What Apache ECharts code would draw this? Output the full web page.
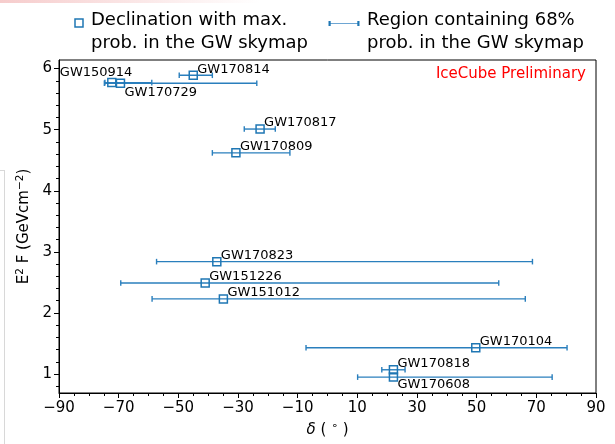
<!DOCTYPE html>
<html>
<head>
<meta charset="utf-8">
<script src="https://cdn.jsdelivr.net/npm/echarts@6/dist/echarts.min.js"></script>
<style>
html,body{margin:0;padding:0;background:#fff;}
#chart{width:615px;height:444px;}
</style>
</head>
<body>
<div id="chart"></div>
<script>
// ---- data ----
const names = ['GW150914','GW170729','GW170814','GW170817','GW170809','GW170823','GW151226','GW151012','GW170104','GW170818','GW170608'];
const decl = [-72.3, -69.4, -45.0, -22.6, -30.7, -37.1, -41.0, -34.9, 49.7, 22.1, 22.1];
const flux = [5.77, 5.76, 5.89, 5.01, 4.62, 2.84, 2.49, 2.23, 1.43, 1.07, 0.95];
const declLow = [-74.6, -74.8, -49.7, -27.9, -38.6, -57.3, -69.3, -58.8, -7.2, 18.2, 10.1];
const declHigh = [-58.9, -23.7, -38.6, -17.5, -12.6, 68.7, 57.4, 66.3, 80.3, 26.0, 75.3];
const xTicks = [-90, -70, -50, -30, -10, 10, 30, 50, 70, 90];
const yTicks = [1, 2, 3, 4, 5, 6];
const yMinorTicks = [0.8, 1.2, 1.4, 1.6, 1.8, 2.2, 2.4, 2.6, 2.8, 3.2, 3.4, 3.6, 3.8, 4.2, 4.4, 4.6, 4.8, 5.2, 5.4, 5.6, 5.8];

// label placement (style only)
const labelOffsets = {
  'GW150914': [-52, -10],
  'GW170729': [4, 9],
  'GW170608': [4, 8]
};
const defaultOffset = [4, -6];

const BLUE = '#1f77b4';
const FONT = 'DejaVu Sans';

const chart = echarts.init(document.getElementById('chart'), null, {renderer: 'canvas'});

const pointData = names.map((n, i) => ({
  name: n,
  value: [decl[i], flux[i]],
  label: {
    show: true,
    position: 'inside',
    align: 'left',
    verticalAlign: 'middle',
    offset: labelOffsets[n] || defaultOffset,
    formatter: n,
    fontFamily: FONT,
    fontSize: 13,
    color: '#000'
  }
}));

const errData = names.map((n, i) => [declLow[i], declHigh[i], flux[i]]);

const fmtMinus = v => (v < 0 ? '\u2212' + Math.abs(v) : String(v));

const option = {
  animation: false,
  backgroundColor: '#fff',
  grid: {left: 59, top: 60, width: 537, height: 333, show: true, borderColor: '#000', borderWidth: 1, backgroundColor: 'transparent'},
  xAxis: {
    type: 'value', min: -90, max: 90, interval: 20,
    axisLine: {show: true, onZero: false, lineStyle: {color: '#000', width: 1}},
    axisTick: {show: true, inside: false, length: 5, lineStyle: {color: '#000'}},
    minorTick: {show: true, splitNumber: 4, length: 3, lineStyle: {color: '#000'}},
    splitLine: {show: false},
    axisLabel: {fontFamily: FONT, fontSize: 15, color: '#000', margin: 8, formatter: fmtMinus},
    name: '{i|\u03b4}{n| ( }{s|\u2218}{n| )}',
    nameLocation: 'middle', nameGap: 25,
    nameTextStyle: {
      fontFamily: FONT, fontSize: 15, color: '#000',
      rich: {
        i: {fontFamily: FONT, fontSize: 15, fontStyle: 'italic', color: '#000'},
        n: {fontFamily: FONT, fontSize: 15, color: '#000'},
        s: {fontFamily: FONT, fontSize: 11, color: '#000', padding: [0, 0, 7, 0]}
      }
    }
  },
  yAxis: [{
    type: 'value', min: 0.69, max: 6.14,
    axisLine: {show: true, onZero: false, lineStyle: {color: '#000', width: 1}},
    axisTick: {show: true, length: 5, customValues: yTicks, lineStyle: {color: '#000'}},
    splitLine: {show: false},
    axisLabel: {fontFamily: FONT, fontSize: 15, color: '#000', margin: 7, customValues: yTicks},
    name: '{n|E}{s|2}{n| F (GeVcm}{s|\u22122}{n|)}',
    nameLocation: 'middle', nameGap: 24, nameRotate: 90,
    nameTextStyle: {
      fontFamily: FONT, fontSize: 15, color: '#000',
      rich: {
        n: {fontFamily: FONT, fontSize: 15, color: '#000'},
        s: {fontFamily: FONT, fontSize: 10.5, color: '#000', padding: [0, 0, 8, 0]}
      }
    }
  }, {
    type: 'value', min: 0.69, max: 6.14, position: 'left', offset: 0,
    axisLine: {show: false, onZero: false},
    axisTick: {show: true, length: 3, customValues: yMinorTicks, lineStyle: {color: '#000'}},
    axisLabel: {show: false},
    splitLine: {show: false}
  }],
  series: [{
    type: 'custom',
    name: 'Region containing 68% prob. in the GW skymap',
    xAxisIndex: 0, yAxisIndex: 0,
    encode: {x: [0, 1], y: 2},
    data: errData,
    z: 2,
    renderItem: function (params, api) {
      const p1 = api.coord([api.value(0), api.value(2)]);
      const p2 = api.coord([api.value(1), api.value(2)]);
      const c = 2.8;
      const st = {stroke: '#2a7fbd', lineWidth: 1.4};
      return {
        type: 'group',
        children: [
          {type: 'line', shape: {x1: p1[0], y1: p1[1], x2: p2[0], y2: p2[1]}, style: st},
          {type: 'line', shape: {x1: p1[0], y1: p1[1] - c, x2: p1[0], y2: p1[1] + c}, style: st},
          {type: 'line', shape: {x1: p2[0], y1: p2[1] - c, x2: p2[0], y2: p2[1] + c}, style: st}
        ]
      };
    }
  }, {
    type: 'scatter',
    name: 'Declination with max. prob. in the GW skymap',
    xAxisIndex: 0, yAxisIndex: 0,
    symbol: 'rect', symbolSize: 8,
    itemStyle: {color: 'none', borderColor: BLUE, borderWidth: 1.5, opacity: 1},
    emphasis: {disabled: true},
    z: 3,
    data: pointData
  }],
  graphic: [
    // legend
    {type: 'rect', shape: {x: 75, y: 19, width: 8, height: 8}, style: {fill: 'none', stroke: BLUE, lineWidth: 1.5}},
    {type: 'text', left: 91, top: 9, style: {text: 'Declination with max.\nprob. in the GW skymap', font: '18px "DejaVu Sans"', fill: '#000', lineHeight: 23}},
    {type: 'line', shape: {x1: 329.5, y1: 23.5, x2: 358.5, y2: 23.5}, style: {stroke: '#6ea6d3', lineWidth: 1}},
    {type: 'rect', shape: {x: 328.5, y: 21, width: 2.2, height: 5}, style: {fill: BLUE}},
    {type: 'rect', shape: {x: 357.3, y: 21, width: 2.2, height: 5}, style: {fill: BLUE}},
    {type: 'text', left: 367, top: 9, style: {text: 'Region containing 68%\nprob. in the GW skymap', font: '18px "DejaVu Sans"', fill: '#000', lineHeight: 23}},
    // annotation
    {type: 'text', right: 29, top: 67, style: {text: 'IceCube Preliminary', font: '15px "DejaVu Sans"', fill: '#ff0000'}},
    // screenshot edge artefacts
    {type: 'line', shape: {x1: 4.5, y1: 170, x2: 4.5, y2: 444}, style: {stroke: '#d8d8d8', lineWidth: 1}},
    {type: 'line', shape: {x1: 0, y1: 170.5, x2: 4.5, y2: 170.5}, style: {stroke: '#d8d8d8', lineWidth: 1}},
    {type: 'rect', shape: {x: 0, y: 0, width: 260, height: 3}, style: {fill: new echarts.graphic.LinearGradient(0, 0, 1, 0, [{offset: 0, color: 'rgba(240,170,170,0.6)'}, {offset: 1, color: 'rgba(240,170,170,0)'}])}}
  ]
};

chart.setOption(option);
</script>
</body>
</html>
